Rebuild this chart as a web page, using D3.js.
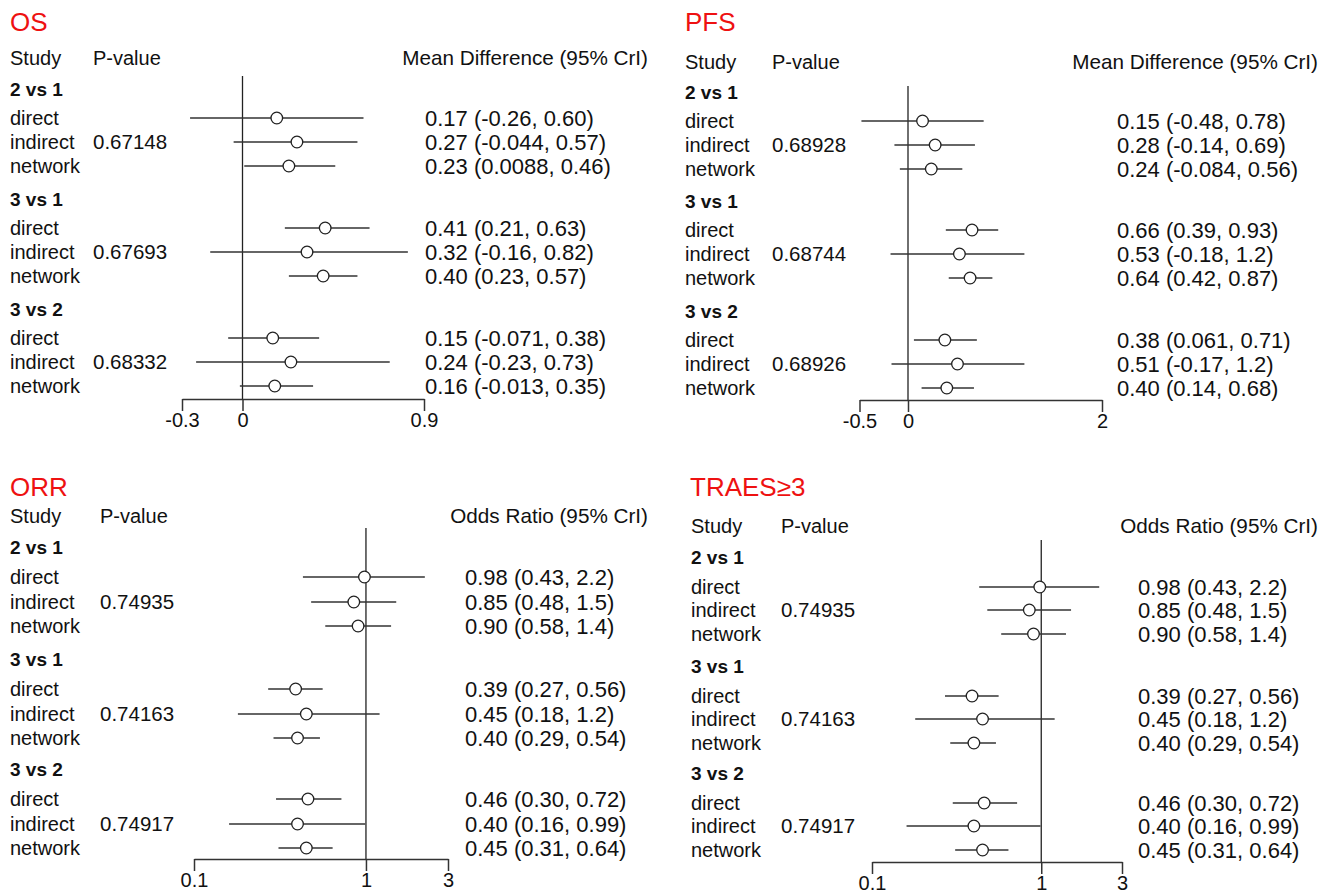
<!DOCTYPE html>
<html>
<head>
<meta charset="utf-8">
<script src="https://cdn.jsdelivr.net/npm/d3@7"></script>
<style>
  html, body { margin: 0; padding: 0; background: #fff; }
  svg { display: block; }
  text { font-family: "Liberation Sans", Arial, sans-serif; fill: #111; }
</style>
</head>
<body>
<svg id="chart" width="1323" height="894"></svg>
<script>
// ---------- DATA ----------
const comparisons = ["2 vs 1", "3 vs 1", "3 vs 2"];
const evidenceTypes = ["direct", "indirect", "network"];

// OS (mean difference)
const osEst = [0.17, 0.27, 0.23, 0.41, 0.32, 0.40, 0.15, 0.24, 0.16];
const osLow = [-0.26, -0.044, 0.0088, 0.21, -0.16, 0.23, -0.071, -0.23, -0.013];
const osHigh = [0.60, 0.57, 0.46, 0.63, 0.82, 0.57, 0.38, 0.73, 0.35];
const osP = ["0.67148", "0.67693", "0.68332"];
const osTicks = [-0.3, 0, 0.9];

// PFS (mean difference)
const pfsEst = [0.15, 0.28, 0.24, 0.66, 0.53, 0.64, 0.38, 0.51, 0.40];
const pfsLow = [-0.48, -0.14, -0.084, 0.39, -0.18, 0.42, 0.061, -0.17, 0.14];
const pfsHigh = [0.78, 0.69, 0.56, 0.93, 1.2, 0.87, 0.71, 1.2, 0.68];
const pfsP = ["0.68928", "0.68744", "0.68926"];
const pfsTicks = [-0.5, 0, 2];

// ORR (odds ratio)
const orrEst = [0.98, 0.85, 0.90, 0.39, 0.45, 0.40, 0.46, 0.40, 0.45];
const orrLow = [0.43, 0.48, 0.58, 0.27, 0.18, 0.29, 0.30, 0.16, 0.31];
const orrHigh = [2.2, 1.5, 1.4, 0.56, 1.2, 0.54, 0.72, 0.99, 0.64];
const orrP = ["0.74935", "0.74163", "0.74917"];
const orrTicks = [0.1, 1, 3];

// TRAES>=3 (odds ratio)
const traesEst = [0.98, 0.85, 0.90, 0.39, 0.45, 0.40, 0.46, 0.40, 0.45];
const traesLow = [0.43, 0.48, 0.58, 0.27, 0.18, 0.29, 0.30, 0.16, 0.31];
const traesHigh = [2.2, 1.5, 1.4, 0.56, 1.2, 0.54, 0.72, 0.99, 0.64];
const traesP = ["0.74935", "0.74163", "0.74917"];
const traesTicks = [0.1, 1, 3];

// ---------- LAYOUT ----------
const svg = d3.select("#chart");
const fmtLocale = d3.formatLocale({decimal: ".", thousands: ",", grouping: [3], currency: ["", ""], minus: "-"});
const fmt2 = fmtLocale.format(".2r");
const tickFmt = d => String(d);

const panels = [
  {title: "OS", header: "Mean Difference (95% CrI)", est: osEst, lo: osLow, hi: osHigh, p: osP, ticks: osTicks, type: "linear",
   titleX: 10, titleY: 31, headY: 65, studyX: 10, pX: 93, valX: 425, headRight: 648,
   range: [182, 424], axisY: 399, refTop: 76, groupY: [89, 199, 309], offs: [29, 53, 77]},
  {title: "PFS", header: "Mean Difference (95% CrI)", est: pfsEst, lo: pfsLow, hi: pfsHigh, p: pfsP, ticks: pfsTicks, type: "linear",
   titleX: 685, titleY: 31, headY: 69, studyX: 685, pX: 772, valX: 1117, headRight: 1318,
   range: [859.5, 1102], axisY: 400, refTop: 86, groupY: [92, 201, 311], offs: [29, 53, 77]},
  {title: "ORR", header: "Odds Ratio (95% CrI)", est: orrEst, lo: orrLow, hi: orrHigh, p: orrP, ticks: orrTicks, type: "log",
   titleX: 10, titleY: 496, headY: 523, studyX: 10, pX: 100, valX: 465, headRight: 648,
   range: [194, 448], axisY: 859, refTop: 528, groupY: [547, 659, 769], offs: [30, 55, 79]},
  {title: "TRAES\u22653", header: "Odds Ratio (95% CrI)", est: traesEst, lo: traesLow, hi: traesHigh, p: traesP, ticks: traesTicks, type: "log",
   titleX: 690, titleY: 496, headY: 533, studyX: 691, pX: 781, valX: 1138, headRight: 1318,
   range: [872, 1122], axisY: 862, refTop: 540, groupY: [557, 666, 773], offs: [30, 53, 77]}
];

panels.forEach(cfg => {
  const g = svg.append("g");
  const dom = [cfg.ticks[0], cfg.ticks[cfg.ticks.length - 1]];
  const x = (cfg.type === "log" ? d3.scaleLog() : d3.scaleLinear()).domain(dom).range(cfg.range);
  const refVal = cfg.type === "log" ? 1 : 0;

  g.append("text").attr("x", cfg.titleX).attr("y", cfg.titleY)
    .style("font-size", "26px").style("fill", "#ee1111").text(cfg.title);
  g.append("text").attr("x", cfg.studyX).attr("y", cfg.headY).style("font-size", "20px").text("Study");
  g.append("text").attr("x", cfg.pX).attr("y", cfg.headY).style("font-size", "20px").text("P-value");
  g.append("text").attr("x", cfg.headRight).attr("y", cfg.headY).attr("text-anchor", "end")
    .style("font-size", "20.7px").text(cfg.header);

  // reference line
  g.append("line").attr("x1", x(refVal)).attr("x2", x(refVal))
    .attr("y1", cfg.refTop).attr("y2", cfg.axisY)
    .attr("stroke", "#222").attr("stroke-width", 1.3);

  // axis
  const axis = d3.axisBottom(x).tickValues(cfg.ticks).tickFormat(tickFmt).tickSize(12).tickSizeOuter(0).tickPadding(2);
  const ag = g.append("g").attr("transform", `translate(0,${cfg.axisY})`).call(axis);
  ag.select(".domain").attr("stroke", "#333").attr("stroke-width", 1.5);
  ag.selectAll(".tick line").attr("stroke", "#333").attr("stroke-width", 1.5);
  ag.selectAll(".tick text").style("font-size", "20px").style("font-family", "Liberation Sans, Arial, sans-serif").attr("fill", "#111");

  comparisons.forEach((comp, gi) => {
    const gy = cfg.groupY[gi];
    g.append("text").attr("x", cfg.studyX).attr("y", gy).attr("dy", "0.35em")
      .style("font-size", "19px").style("font-weight", "bold").text(comp);
    evidenceTypes.forEach((ev, ri) => {
      const i = gi * 3 + ri;
      const y = gy + cfg.offs[ri];
      g.append("text").attr("x", cfg.studyX).attr("y", y).attr("dy", "0.35em").style("font-size", "20px").text(ev);
      if (ev === "indirect") {
        g.append("text").attr("x", cfg.pX).attr("y", y).attr("dy", "0.35em").style("font-size", "20.5px").text(cfg.p[gi]);
      }
      g.append("line").attr("x1", x(cfg.lo[i])).attr("x2", x(cfg.hi[i]))
        .attr("y1", y).attr("y2", y).attr("stroke", "#333").attr("stroke-width", 1.6);
      g.append("circle").attr("cx", x(cfg.est[i])).attr("cy", y).attr("r", 5.8)
        .attr("fill", "#fff").attr("stroke", "#222").attr("stroke-width", 1.3);
      g.append("text").attr("x", cfg.valX).attr("y", y).attr("dy", "0.35em").style("font-size", "22px")
        .text(`${fmt2(cfg.est[i])} (${fmt2(cfg.lo[i])}, ${fmt2(cfg.hi[i])})`);
    });
  });
});
</script>
</body>
</html>
